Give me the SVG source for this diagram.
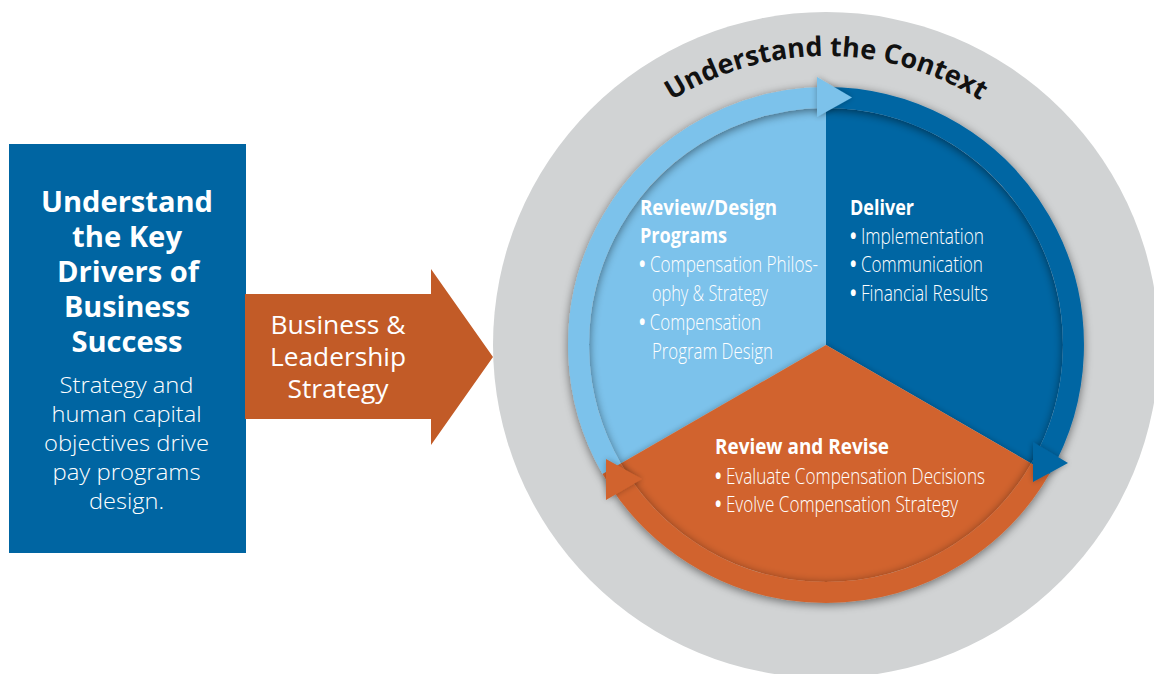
<svg xmlns="http://www.w3.org/2000/svg" width="1154" height="674" viewBox="0 0 1154 674">
<style>
.hb{font-family:"Open Sans","DejaVu Sans",sans-serif;font-weight:700;fill:#fff}
.lt{font-family:"Open Sans","DejaVu Sans",sans-serif;font-weight:300;fill:#fff}
.rg{font-family:"Open Sans","DejaVu Sans",sans-serif;font-weight:400;fill:#fff}
.ph{font-family:"Open Sans","DejaVu Sans",sans-serif;font-weight:700;font-size:22px;fill:#fff}
.pb{font-family:"Open Sans","DejaVu Sans",sans-serif;font-weight:300;font-size:22px;fill:#fff}
.bu{font-weight:700}
.ring{fill:none;stroke-width:21}
</style>
<defs>
<filter id="shadow" x="-20%" y="-20%" width="140%" height="140%">
<feGaussianBlur in="SourceAlpha" stdDeviation="5"/>
<feOffset dy="2"/>
<feComponentTransfer><feFuncA type="linear" slope="0.5"/></feComponentTransfer>
<feMerge><feMergeNode/><feMergeNode in="SourceGraphic"/></feMerge>
</filter>
<filter id="soft" x="-20%" y="-20%" width="140%" height="140%">
<feGaussianBlur in="SourceAlpha" stdDeviation="3"/>
<feComponentTransfer><feFuncA type="linear" slope="0.3"/></feComponentTransfer>
<feMerge><feMergeNode/><feMergeNode in="SourceGraphic"/></feMerge>
</filter>
<path id="ctxArc" d="M 575.7 200.5 A 289 289 0 0 1 1076.3 200.5"/>
</defs>

<g id="drivers">
<rect x="9" y="144" width="237" height="409" fill="#0065a2"/>
<g class="hb" font-size="29" text-anchor="middle">
<text x="127" y="212" textLength="172" lengthAdjust="spacingAndGlyphs">Understand</text>
<text x="127" y="247" textLength="110" lengthAdjust="spacingAndGlyphs">the Key</text>
<text x="128" y="282" textLength="142" lengthAdjust="spacingAndGlyphs">Drivers of</text>
<text x="127" y="317" textLength="126" lengthAdjust="spacingAndGlyphs">Business</text>
<text x="127" y="352" textLength="111" lengthAdjust="spacingAndGlyphs">Success</text>
</g>
<g class="lt" font-size="22" text-anchor="middle">
<text x="126.5" y="393" textLength="134" lengthAdjust="spacingAndGlyphs">Strategy and</text>
<text x="126.5" y="422" textLength="150" lengthAdjust="spacingAndGlyphs">human capital</text>
<text x="126.5" y="451" textLength="165" lengthAdjust="spacingAndGlyphs">objectives drive</text>
<text x="126.5" y="480" textLength="148" lengthAdjust="spacingAndGlyphs">pay programs</text>
<text x="126.5" y="509" textLength="75" lengthAdjust="spacingAndGlyphs">design.</text>
</g>
</g>

<g id="strategy-arrow">
<polygon points="245,294 431,294 431,269 493,357 431,445 431,419 245,419" fill="#c25b27"/>
<g class="rg" font-size="25" text-anchor="middle">
<text x="338" y="334" textLength="135" lengthAdjust="spacingAndGlyphs">Business &amp;</text>
<text x="338" y="366" textLength="136" lengthAdjust="spacingAndGlyphs">Leadership</text>
<text x="338" y="398" textLength="101" lengthAdjust="spacingAndGlyphs">Strategy</text>
</g>
</g>

<g id="context">
<circle cx="826" cy="345" r="333" fill="#d1d3d4"/>
<text font-family="'Open Sans','DejaVu Sans',sans-serif" font-weight="700" font-size="27" fill="#111">
<textPath href="#ctxArc" startOffset="50%" text-anchor="middle">Understand the Context</textPath>
</text>
</g>

<g id="review-design">
<path d="M 826 345 L 826 108 A 237 237 0 0 0 620.75 463.5 Z" fill="#7cc2eb"/>
</g>
<g id="deliver">
<path d="M 826 345 L 826 108 A 237 237 0 0 1 1031.25 463.5 Z" fill="#0066a3"/>
</g>
<g id="review-revise">
<path d="M 826 345 L 1031.25 463.5 A 237 237 0 0 1 620.75 463.5 Z" fill="#d1642f" filter="url(#soft)"/>
</g>

<g id="connectors">
<g filter="url(#shadow)">
<path class="ring" d="M 611.7 468.75 A 247.5 247.5 0 0 1 826 97.5" stroke="#7cc2eb"/>
<path class="ring" d="M 826 97.5 A 247.5 247.5 0 0 1 1040.3 468.75" stroke="#0066a3"/>
<path class="ring" d="M 1040.3 468.75 A 247.5 247.5 0 0 1 611.7 468.75" stroke="#d1642f"/>
</g>
<g filter="url(#soft)">
<polygon points="817,77 852,97.5 817,117" fill="#7cc2eb"/>
<polygon points="1033,442 1068,463 1033,482" fill="#0066a3"/>
<polygon points="606,459 642,479 606,500" fill="#d1642f"/>
</g>
</g>

<g id="review-design-text">
<text class="ph" x="640" y="215" textLength="137" lengthAdjust="spacingAndGlyphs">Review/Design</text>
<text class="ph" x="640" y="243" textLength="87" lengthAdjust="spacingAndGlyphs">Programs</text>
<text class="pb" x="639" y="272" textLength="179" lengthAdjust="spacingAndGlyphs"><tspan class="bu">•</tspan> Compensation Philos-</text>
<text class="pb" x="652" y="301" textLength="116" lengthAdjust="spacingAndGlyphs">ophy &amp; Strategy</text>
<text class="pb" x="639" y="329.5" textLength="122" lengthAdjust="spacingAndGlyphs"><tspan class="bu">•</tspan> Compensation</text>
<text class="pb" x="652" y="358.5" textLength="121" lengthAdjust="spacingAndGlyphs">Program Design</text>
</g>
<g id="deliver-text">
<text class="ph" x="850" y="215" textLength="64" lengthAdjust="spacingAndGlyphs">Deliver</text>
<text class="pb" x="850" y="243.5" textLength="134" lengthAdjust="spacingAndGlyphs"><tspan class="bu">•</tspan> Implementation</text>
<text class="pb" x="850" y="272" textLength="133" lengthAdjust="spacingAndGlyphs"><tspan class="bu">•</tspan> Communication</text>
<text class="pb" x="850" y="300.5" textLength="138" lengthAdjust="spacingAndGlyphs"><tspan class="bu">•</tspan> Financial Results</text>
</g>
<g id="review-revise-text">
<text class="ph" x="715" y="453.5" textLength="174" lengthAdjust="spacingAndGlyphs">Review and Revise</text>
<text class="pb" x="715" y="483.5" textLength="270" lengthAdjust="spacingAndGlyphs"><tspan class="bu">•</tspan> Evaluate Compensation Decisions</text>
<text class="pb" x="715" y="511.5" textLength="243" lengthAdjust="spacingAndGlyphs"><tspan class="bu">•</tspan> Evolve Compensation Strategy</text>
</g>
</svg>
